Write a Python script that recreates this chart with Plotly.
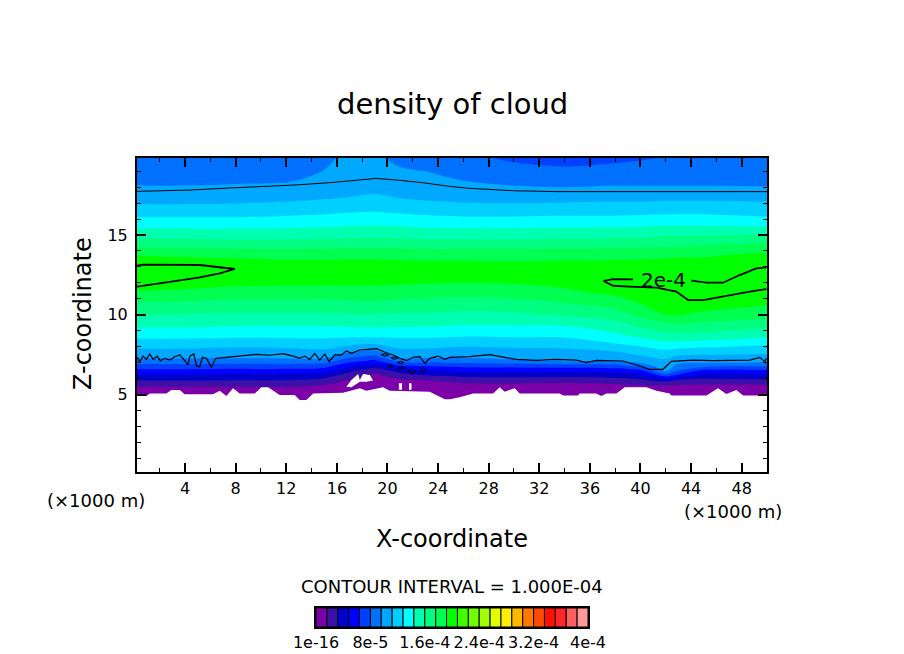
import numpy as np
import plotly.graph_objects as go

# the page body has an 8 px margin, so the figure is 8 px smaller and layout pixels are page pixels minus 8
PAGE_MARGIN = 8
W, H = 904 - PAGE_MARGIN, 654 - PAGE_MARGIN

# heights (x1000 m) of the rows in the cloud table
z_rows = [4.5, 5.0, 5.3, 5.6, 5.9, 6.2, 6.5, 6.8, 7.1, 7.4, 7.8, 8.2, 8.7, 9.3, 10, 10.7,
          11.4, 12, 12.6, 13.2, 13.8, 14.4, 15, 15.7, 16.4, 17.1, 17.8, 18.4, 19.1, 19.9]

x_cols = [0, 4, 8, 12, 15, 17, 19, 21, 23, 26, 30, 34, 38, 40, 42, 43, 45, 50]

# density, units of 1e-5, one list per x column
density_cols = [
    [.3, .5, 1.0, 2.0, 3.3, 4.5, 6.0, 7.4, 9.0, 10.1, 11.0, 12.0, 13.3, 14.6, 16.0, 17.4, 19.0, 20.3, 20.8, 20.4, 19.0, 17.0, 15.4, 13.7, 12.2, 10.9, 9.9, 9.3, 8.5, 8.1],
    [.3, .5, 1.0, 2.0, 3.3, 4.5, 6.0, 7.4, 9.0, 10.1, 11.0, 12.0, 13.3, 14.6, 15.9, 17.3, 18.8, 20.0, 20.5, 20.1, 18.8, 16.9, 15.4, 13.7, 12.2, 10.9, 9.9, 9.3, 8.5, 8.1],
    [.3, .5, 1.0, 2.0, 3.2, 4.4, 5.9, 7.3, 8.9, 10.1, 10.8, 11.8, 13.2, 14.4, 15.8, 17.1, 18.5, 19.6, 20.0, 19.9, 18.7, 16.8, 15.3, 13.7, 12.2, 11.0, 10.0, 9.4, 8.7, 8.2],
    [.3, .5, 1.0, 2.0, 3.2, 4.4, 5.9, 7.3, 8.9, 10.2, 10.9, 11.9, 13.2, 14.4, 15.8, 17.1, 18.5, 19.5, 19.9, 19.6, 18.6, 16.8, 15.3, 13.8, 12.4, 11.2, 10.1, 9.5, 8.9, 8.6],
    [.3, .5, .8, 1.6, 2.7, 4.0, 5.5, 7.1, 8.8, 10.3, 11.1, 12.0, 13.2, 14.4, 15.8, 17.1, 18.4, 19.5, 19.8, 19.6, 18.6, 16.9, 15.4, 14.0, 12.6, 11.4, 10.4, 9.9, 9.6, 9.5],
    [.3, .5, .7, 1.0, 1.5, 2.4, 3.6, 5.2, 6.9, 8.5, 10.3, 11.6, 13.2, 14.5, 15.9, 17.2, 18.5, 19.5, 19.8, 19.6, 18.7, 17.0, 15.5, 14.1, 12.8, 11.6, 10.6, 10.1, 9.8, 9.7],
    [.3, .5, .7, .9, 1.1, 1.3, 2.0, 4.4, 6.1, 7.7, 9.7, 11.4, 13.2, 14.6, 15.9, 17.3, 18.5, 19.5, 19.8, 19.6, 18.7, 17.0, 15.6, 14.2, 12.9, 11.8, 10.9, 10.2, 9.9, 9.7],
    [.3, .5, .5, .9, 1.4, 2.4, 4.0, 6.2, 8.6, 10.4, 11.0, 11.9, 13.2, 14.5, 15.8, 17.1, 18.4, 19.4, 19.8, 19.6, 18.6, 16.9, 15.5, 14.1, 12.7, 11.5, 10.5, 9.9, 9.65, 9.4],
    [.3, .5, .8, 1.1, 1.6, 3.2, 4.8, 6.6, 8.6, 10.2, 11.0, 11.9, 13.2, 14.5, 15.8, 17.0, 18.3, 19.3, 19.7, 19.5, 18.5, 16.8, 15.3, 13.9, 12.5, 11.3, 10.3, 9.9, 9.55, 9.1],
    [.3, .5, .7, 1.2, 2.2, 3.6, 5.2, 6.9, 8.8, 10.1, 10.8, 11.6, 13.0, 14.3, 15.6, 16.9, 18.2, 19.2, 19.7, 19.5, 18.5, 16.8, 15.3, 13.8, 12.3, 11.1, 10.1, 9.6, 8.9, 8.3],
    [.3, .5, .7, 1.3, 2.3, 3.8, 5.3, 7.0, 9.2, 10.3, 10.9, 11.8, 13.1, 14.3, 15.7, 17.0, 18.4, 19.3, 19.6, 19.4, 18.5, 16.8, 15.3, 13.8, 12.3, 11.0, 10.0, 9.2, 8.4, 7.7],
    [.3, .5, .7, 1.2, 2.2, 3.7, 5.2, 7.2, 9.8, 10.4, 11.0, 11.9, 13.1, 14.4, 16.2, 17.5, 18.8, 19.7, 19.7, 19.5, 18.6, 16.9, 15.4, 13.9, 12.4, 11.1, 9.9, 9.0, 8.2, 7.4],
    [.3, .5, .8, 1.4, 2.5, 4.0, 5.5, 7.4, 9.7, 10.6, 11.4, 12.8, 14.1, 15.2, 16.9, 18.3, 19.6, 20.05, 19.9, 19.6, 18.6, 17.0, 15.5, 13.9, 12.4, 11.2, 10.0, 9.2, 8.4, 7.6],
    [.3, .5, .9, 1.6, 2.9, 4.4, 6.0, 8.8, 10.3, 11.1, 12.0, 13.4, 14.8, 16.2, 18.0, 19.2, 19.8, 20.1, 19.9, 19.6, 18.7, 17.1, 15.6, 14.0, 12.5, 11.2, 10.0, 9.2, 8.5, 7.8],
    [.3, .5, .9, 1.7, 3.8, 7.2, 10.0, 10.4, 10.9, 11.6, 12.8, 14.0, 15.5, 17.0, 19.2, 19.6, 20.0, 20.2, 20.0, 19.7, 18.8, 17.2, 15.8, 14.1, 12.6, 11.3, 10.0, 9.2, 8.6, 8.0],
    [.3, .5, .9, 1.6, 3.0, 6.0, 8.0, 9.2, 10.1, 11.0, 12.5, 14.0, 15.6, 17.2, 19.3, 20.1, 20.3, 20.4, 20.1, 19.8, 18.9, 17.3, 15.8, 14.1, 12.6, 11.3, 10.0, 9.2, 8.6, 8.1],
    [.3, .5, .9, 1.5, 2.8, 4.2, 6.0, 8.6, 10.2, 10.9, 12.2, 13.8, 15.4, 17.0, 18.8, 20.1, 20.4, 20.2, 19.9, 19.6, 19.0, 17.5, 15.9, 14.1, 12.6, 11.3, 10.0, 9.2, 8.6, 8.1],
    [.3, .5, .9, 1.5, 3.0, 4.6, 6.2, 8.3, 10.2, 10.9, 11.9, 13.2, 14.9, 16.4, 18.4, 19.4, 19.7, 20.6, 20.8, 19.8, 19.4, 17.9, 16.0, 13.9, 12.2, 11.2, 9.9, 9.2, 8.6, 8.1],
]

# 1e-4 and 2e-4 contour lines, read point by point
top_line_x = [0.2, 4.37, 7.53, 12.8, 15.7, 17.5, 19.1, 20.7, 22.8, 24.9, 26.5, 29.9, 33.4, 50.0]
top_line_z = [17.74, 17.82, 17.95, 18.14, 18.3, 18.45, 18.55, 18.45, 18.28, 18.05, 17.93, 17.78, 17.72, 17.72]

low_line_x = [0.21, 0.42, 0.68, 0.94, 1.21, 1.47, 1.79, 2.05, 2.39, 2.79, 3.18, 3.58, 3.97, 4.24, 4.37, 4.69, 4.9, 5.16,
              5.37, 5.69, 6.08, 6.42, 7.27, 8.58, 9.64, 10.69, 11.75, 12.54, 13.06, 13.46, 13.85, 14.25, 14.65, 15.04,
              15.38, 15.83, 16.36, 16.75, 17.15, 17.81, 19.13, 19.92, 20.44, 20.97, 21.5, 22.02, 22.55, 22.95, 23.34,
              24.0, 24.53, 24.92, 26.5, 28.08, 29.14, 30.19, 31.77, 33.35, 34.93, 35.72, 36.51, 38.62, 39.68, 40.73,
              41.78, 42.44, 44.16, 45.74, 48.64, 49.43, 49.82, 49.95]
low_line_z = [7.33, 7.06, 7.41, 7.2, 7.54, 7.2, 7.41, 7.12, 7.27, 7.16, 7.37, 7.48, 7.12, 6.85, 7.41, 7.54, 6.79, 6.74,
              7.33, 7.27, 6.7, 7.27, 7.33, 7.41, 7.52, 7.46, 7.56, 7.41, 7.27, 7.41, 7.2, 7.58, 7.16, 7.54,
              7.06, 7.48, 7.48, 7.73, 7.58, 7.79, 7.87, 7.62, 7.48, 7.27, 7.12, 7.33, 7.37, 6.95, 7.27,
              7.41, 7.2, 7.33, 7.37, 7.5, 7.37, 7.2, 7.14, 7.2, 7.16, 7.0, 7.14, 7.1, 6.85, 6.58,
              6.58, 7.08, 7.16, 7.12, 7.16, 7.33, 7.06, 7.27]

# little closed 1e-4 loops on the flank of the hump
blob_x = [19.5, 19.8, 20.1, 19.8, 19.5, None, 20.3, 20.55, 20.8, 20.55, 20.3, None, 20.8, 21.05, 21.3, 21.05, 20.8, None,
          20.0, 20.25, 20.5, 20.25, 20.0, None, 20.8, 21.1, 21.4, 21.1, 20.8, None, 21.6, 21.9, 22.2, 21.9, 21.6, None,
          22.6, 22.8, 23.0, 22.8, 22.6]
blob_z = [7.48, 7.56, 7.48, 7.4, 7.48, None, 7.28, 7.36, 7.28, 7.2, 7.28, None, 7.0, 7.08, 7.0, 6.92, 7.0, None,
          6.8, 6.88, 6.8, 6.72, 6.8, None, 6.65, 6.73, 6.65, 6.57, 6.65, None, 6.45, 6.6, 6.45, 6.3, 6.45, None,
          6.55, 6.7, 6.55, 6.4, 6.55]

peak_left_x = [0.15, 0.68, 5.16, 6.48, 7.93, 6.74, 5.16, 2.26, 0.15]
peak_left_z = [13.08, 13.14, 13.12, 13.0, 12.87, 12.6, 12.35, 12.0, 11.76]

peak_right_x = [39.41, 37.83, 37.09, 37.83, 39.15, 41.26, 42.84, 43.76, 44.95, 47.05, 48.64, 49.95, None,
                44.02, 45.21, 46.53, 47.84, 49.16, 49.95]
peak_right_z = [12.22, 12.24, 12.12, 11.82, 11.76, 11.7, 11.45, 10.92, 10.92, 11.24, 11.45, 11.61, None,
                12.14, 12.01, 12.01, 12.49, 12.91, 12.97]

# edge of the region without data (white)
ground_x = [0.1, 0.94, 1.21, 2.52, 2.92, 3.58, 3.97, 6.21, 6.74, 7.27, 7.79, 8.32, 9.51, 10.03, 10.56, 11.48, 12.67,
            13.06, 13.59, 14.12, 16.49, 17.81, 18.33, 19.65, 20.18, 23.34, 24.53, 24.92, 25.71, 26.76, 28.35, 28.87,
            29.27, 30.06, 30.45, 33.62, 33.88, 35.06, 35.2, 36.51, 36.91, 37.3, 38.1, 38.75, 40.47, 41.26, 42.31,
            42.44, 45.21, 46.13, 46.79, 47.58, 48.11, 50.1]
ground_z = [4.97, 4.91, 5.07, 5.07, 5.28, 5.28, 5.01, 5.01, 5.24, 4.91, 5.39, 5.07, 5.07, 5.45, 5.45, 4.97, 4.97,
            4.66, 4.66, 5.07, 5.11, 5.39, 5.24, 5.45, 5.24, 5.18, 4.7, 4.7, 4.82, 5.07, 5.07, 5.45,
            5.18, 5.39, 5.07, 5.07, 4.93, 4.93, 5.07, 5.07, 4.91, 5.07, 5.07, 5.45, 5.45, 5.24, 5.07,
            4.93, 4.93, 5.39, 5.03, 5.28, 4.93, 4.93]

hole_x = [16.75, 17.15, 17.68, 17.81, 18.07, 18.6, 18.86, 18.33, 17.81, 17.15, 16.75, None,
          20.9, 21.15, 21.15, 20.9, 20.9, None, 21.7, 21.9, 21.9, 21.7, 21.7]
hole_z = [5.49, 5.91, 6.29, 5.91, 6.29, 6.22, 5.87, 5.8, 5.8, 5.45, 5.49, None,
          5.3, 5.3, 5.7, 5.7, 5.3, None, 5.3, 5.3, 5.7, 5.7, 5.3]

level_colors = ["#7b00a8", "#3c10a8", "#0000c8", "#0000ff", "#0040ff", "#0070ff", "#00a8ff", "#00d0ff",
                "#00ffff", "#00ffb0", "#00ff80", "#00ff50", "#00ff00", "#40ff00", "#70ff00", "#a0ff00",
                "#e0ff00", "#ffee00", "#ffb800", "#ff7800", "#ff4800", "#ff1000", "#ff2828", "#ff6060", "#ff9898"]
level_step = 1.6e-5
bar_ticks = [0, 8e-5, 1.6e-4, 2.4e-4, 3.2e-4, 4e-4]
bar_labels = ["1e-16", "8e-5", "1.6e-4", "2.4e-4", "3.2e-4", "4e-4"]

FONT = "DejaVu Sans"


def px_x(px):
    return (px - PAGE_MARGIN) / W


def px_y(py):
    return 1 - (py - PAGE_MARGIN) / H


density = np.array(density_cols).T * 1e-5
scale_colors = level_colors + [level_colors[-1]]
colorscale = [[i / (len(scale_colors) - 1), c] for i, c in enumerate(scale_colors)]

fig = go.Figure()

fig.add_trace(go.Contour(
    x=x_cols, y=z_rows, z=density,
    colorscale=colorscale, showscale=False,
    contours=dict(coloring="fill", showlines=False, start=level_step, end=4e-4, size=level_step),
    line=dict(width=0),
    hoverinfo="skip",
))

# no-data region
fig.add_trace(go.Scatter(x=ground_x, y=ground_z, mode="none", fill="tozeroy", fillcolor="white",
                         hoverinfo="skip", showlegend=False))
fig.add_trace(go.Scatter(x=hole_x, y=hole_z, mode="none", fill="toself", fillcolor="white",
                         hoverinfo="skip", showlegend=False))

for xs, zs, lw in [(top_line_x, top_line_z, 1), (low_line_x, low_line_z, 1.2), (blob_x, blob_z, 1),
                   (peak_left_x, peak_left_z, 1.8), (peak_right_x, peak_right_z, 1.8)]:
    fig.add_trace(go.Scatter(x=xs, y=zs, mode="lines", line=dict(color="black", width=lw),
                             hoverinfo="skip", showlegend=False))

# colour key
for i, c in enumerate(level_colors):
    fig.add_trace(go.Bar(x=[level_step], y=[0], base=[i * level_step], orientation="h", width=1,
                         marker=dict(color=c, line=dict(color="black", width=1)),
                         xaxis="x2", yaxis="y2", showlegend=False, hoverinfo="skip"))

fig.update_layout(
    width=W, height=H, autosize=False,
    margin=dict(l=0, r=0, t=0, b=0),
    paper_bgcolor="white", plot_bgcolor="white",
    barmode="overlay",
    font=dict(family=FONT, color="black", size=16),
    xaxis=dict(
        domain=[px_x(137), px_x(767)], range=[0.2, 50.0], automargin=False,
        tickmode="array", tickvals=list(range(4, 49, 4)),
        ticks="inside", ticklen=9, tickwidth=2, tickcolor="black",
        minor=dict(tickvals=list(range(2, 51, 4)), ticks="inside", ticklen=4, tickwidth=1, tickcolor="black"),
        showline=True, linecolor="black", linewidth=2, mirror="allticks",
        showgrid=False, zeroline=False, ticklabelstandoff=1,
        tickfont=dict(size=16),
    ),
    yaxis=dict(
        domain=[px_y(472), px_y(158)], range=[0.14, 19.83], automargin=False,
        tickmode="array", tickvals=[5, 10, 15],
        ticks="inside", ticklen=9, tickwidth=2, tickcolor="black",
        minor=dict(tickvals=[1, 2, 3, 4, 6, 7, 8, 9, 11, 12, 13, 14, 16, 17, 18, 19], ticks="inside",
                   ticklen=4, tickwidth=1, tickcolor="black"),
        showline=True, linecolor="black", linewidth=2, mirror="allticks",
        showgrid=False, zeroline=False, ticklabelstandoff=4,
        tickfont=dict(size=16),
    ),
    xaxis2=dict(
        domain=[px_x(316), px_x(588)], range=[0, 4e-4], anchor="y2", automargin=False,
        tickmode="array", tickvals=bar_ticks, ticktext=bar_labels, ticks="",
        showline=True, linecolor="black", linewidth=2, mirror=True,
        showgrid=False, zeroline=False, tickfont=dict(size=16), ticklabelstandoff=0,
    ),
    yaxis2=dict(
        domain=[px_y(627), px_y(608)], range=[-0.5, 0.5], anchor="x2", automargin=False,
        showticklabels=False, ticks="",
        showline=True, linecolor="black", linewidth=2, mirror=True,
        showgrid=False, zeroline=False,
    ),
)


def label(text, px, py, size, angle=0):
    fig.add_annotation(text=text, x=px_x(px), y=px_y(py), xref="paper", yref="paper",
                       showarrow=False, textangle=angle, font=dict(size=size, family=FONT),
                       xanchor="center", yanchor="middle")


label("density of cloud", 452, 104, 29)
label("X-coordinate", 452, 539, 24)
label("Z-coordinate", 83, 314, 24, angle=-90)
label("(×1000 m)", 96, 500, 18)
label("(×1000 m)", 733, 511, 18)
label("CONTOUR INTERVAL = 1.000E-04", 452, 586, 18)

fig.add_annotation(text="2e-4", x=41.8, y=12.2, showarrow=False, font=dict(size=20, family=FONT),
                   xref="x", yref="y")

fig.write_html("out.html")
